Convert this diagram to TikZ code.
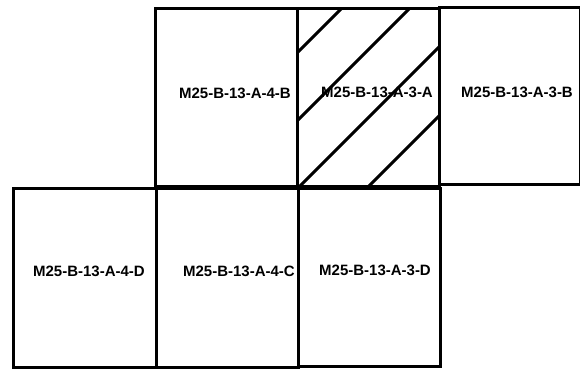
\documentclass[tikz,border=0pt]{standalone}
\usepackage{fontspec}
\setmainfont{Liberation Sans}
\begin{document}
\begin{tikzpicture}[x=1pt,y=-1pt,
  cellbox/.style={draw=black,line width=3pt,line join=miter},
  hatchline/.style={line width=3pt},
  lbl/.style={font=\fontsize{15}{17}\selectfont\bfseries,inner sep=0pt}]
\useasboundingbox (0,0) rectangle (580,374);
% hatch in the shaded cell
\begin{scope}
\clip (297,9) rectangle (439,186);
\foreach \c in {350,418,486,555}{
  \draw[hatchline] (\c+50,-50) -- (\c-250,250);
}
\end{scope}
% top row
\draw[cellbox] (155,9) rectangle (297,186);
\draw[cellbox] (297,9) rectangle (439,186);
\draw[cellbox] (439,8) rectangle (580.5,184);
% bottom row
\draw[cellbox] (13,188) rectangle (156,367);
\draw[cellbox] (156,188) rectangle (298,367);
\draw[cellbox] (298,188) rectangle (440,366);
% labels
\node[lbl] (t1) at (235,93) {M25-B-13-A-4-B};
\node[lbl] (t2) at (377,92) {M25-B-13-A-3-A};
\node[lbl] (t3) at (517,92) {M25-B-13-A-3-B};
\node[lbl] (b1) at (89,271) {M25-B-13-A-4-D};
\node[lbl] (b2) at (239,271) {M25-B-13-A-4-C};
\node[lbl] (b3) at (375,270) {M25-B-13-A-3-D};
\end{tikzpicture}
\end{document}
